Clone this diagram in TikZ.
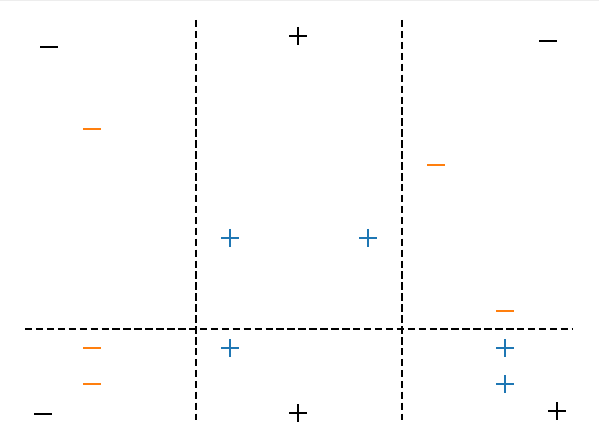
\documentclass[tikz,border=0pt]{standalone}
\definecolor{tabblue}{HTML}{1F77B4}
\definecolor{taborange}{HTML}{FF7F0E}
\begin{document}
\begin{tikzpicture}[x=0.75pt,y=-0.75pt,
    sep/.style={black, line width=1.5pt, dash pattern=on 5.6pt off 2.6pt},
    mk/.style={line width=1.5pt}]
    \useasboundingbox (0,0) rectangle (599,438);
    \draw[black!7, line width=1pt] (0,0.7) -- (599,0.7);
    % cuts
    \draw[sep] (196,20) -- (196,420);
    \draw[sep] (402,20) -- (402,420);
    \draw[sep] (25,329) -- (573,329);
    % black points
    \foreach \x/\y in {298/36, 298/413, 557/411}
    \draw[mk] (\x-9,\y) -- (\x+9,\y) (\x,\y-9) -- (\x,\y+9);
    \foreach \x/\y in {49/47, 548/41, 43/414}
    \draw[mk] (\x-9,\y) -- (\x+9,\y);
    % blue points
    \foreach \x/\y in {230/238, 368/238, 230/348, 505/348, 505/384}
    \draw[mk, tabblue] (\x-9,\y) -- (\x+9,\y) (\x,\y-9) -- (\x,\y+9);
    % orange points
    \foreach \x/\y in {92/129, 436/165, 505/311, 92/348, 92/384}
    \draw[mk, taborange] (\x-9,\y) -- (\x+9,\y);
\end{tikzpicture}
\end{document}
